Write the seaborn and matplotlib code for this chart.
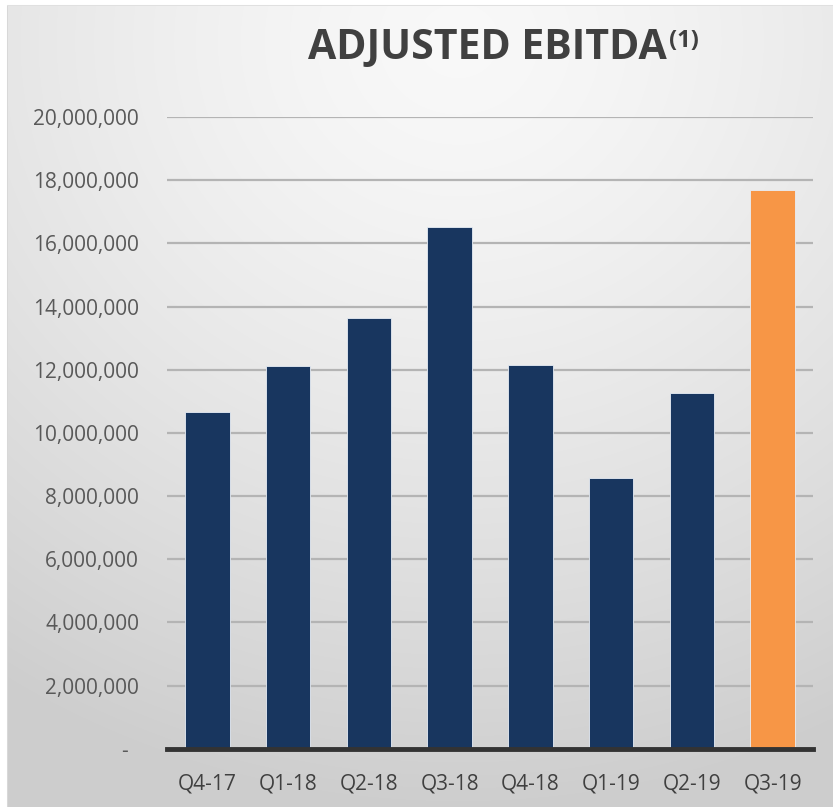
import numpy as np
import pandas as pd
import matplotlib
matplotlib.use("Agg")
import matplotlib.pyplot as plt
from matplotlib.ticker import FuncFormatter
import seaborn as sns

quarters = ["Q4-17", "Q1-18", "Q2-18", "Q3-18", "Q4-18", "Q1-19", "Q2-19", "Q3-19"]
ebitda = [10_670_000, 12_110_000, 13_640_000, 16_530_000, 12_150_000, 8_580_000, 11_270_000, 17_700_000]
bar_colors = ["#18365f"] * 7 + ["#f79646"]
y_ticks = list(range(0, 20_000_001, 2_000_000))

sns.set_theme(style="white")
plt.rcParams["font.family"] = ["Open Sans", "DejaVu Sans"]

W, H = 833, 807
fig = plt.figure(figsize=(W / 100, H / 100), dpi=100)

# panel background: soft radial shading, lighter at the top centre
bg = fig.add_axes([0, 0, 1, 1], zorder=-10)
yy, xx = np.mgrid[0:H, 0:W]
r = np.sqrt(((xx - W * 0.55) / W) ** 2 + ((yy - H * 0.05) / H) ** 2 * 1.1)
shade = 0.975 - 0.17 * np.clip(r / 1.0, 0, 1) ** 1.4
img = np.dstack([shade] * 3)
img[:, :7] = 1.0
img[:5, :] = 1.0
img[5:, 7] = 0.85
img[5, 7:] = 0.88
bg.imshow(img, aspect="auto", extent=[0, 1, 0, 1], origin="upper")
bg.set_axis_off()

x0, x1 = 167, 813
y_top, y_bot = 117, 748.7
ax = fig.add_axes([x0 / W, 1 - y_bot / H, (x1 - x0) / W, (y_bot - y_top) / H])
ax.patch.set_alpha(0)

df = pd.DataFrame({"quarter": quarters, "ebitda": ebitda})
sns.barplot(data=df, x="quarter", y="ebitda", hue="quarter", palette=bar_colors,
            width=0.55, legend=False, ax=ax, saturation=1, zorder=3,
            edgecolor="#e8eef6", linewidth=0.6)

ax.set_xlim(-0.5, len(quarters) - 0.5)
ax.set_ylim(0, 20_000_000)
ax.set_yticks(y_ticks)
ax.yaxis.set_major_formatter(FuncFormatter(lambda v, p: "-  " if v == 0 else f"{int(v):,}"))
ax.grid(axis="y", color="#b4b4b4", linewidth=1.6, zorder=0)
ax.set_axisbelow(True)
for side in ["top", "right", "left"]:
    ax.spines[side].set_visible(False)
ax.spines["bottom"].set_color("#333333")
ax.spines["bottom"].set_linewidth(3.5)
ax.spines["bottom"].set_zorder(5)
ax.set_xlabel("")
ax.set_ylabel("")
ax.tick_params(axis="y", length=0, pad=20, labelsize=15, labelcolor="#595959")
ax.tick_params(axis="x", length=0, pad=18, labelsize=15, labelcolor="#404040")

fig.text(667 / W, 1 - 59 / H, "ADJUSTED EBITDA", ha="right", va="baseline",
         fontsize=29.5, fontweight="bold", color="#404040")
fig.text(669 / W, 1 - 47 / H, "(1)", ha="left", va="baseline",
         fontsize=17, fontweight="bold", color="#404040")

fig.savefig("out.png", dpi=100)
